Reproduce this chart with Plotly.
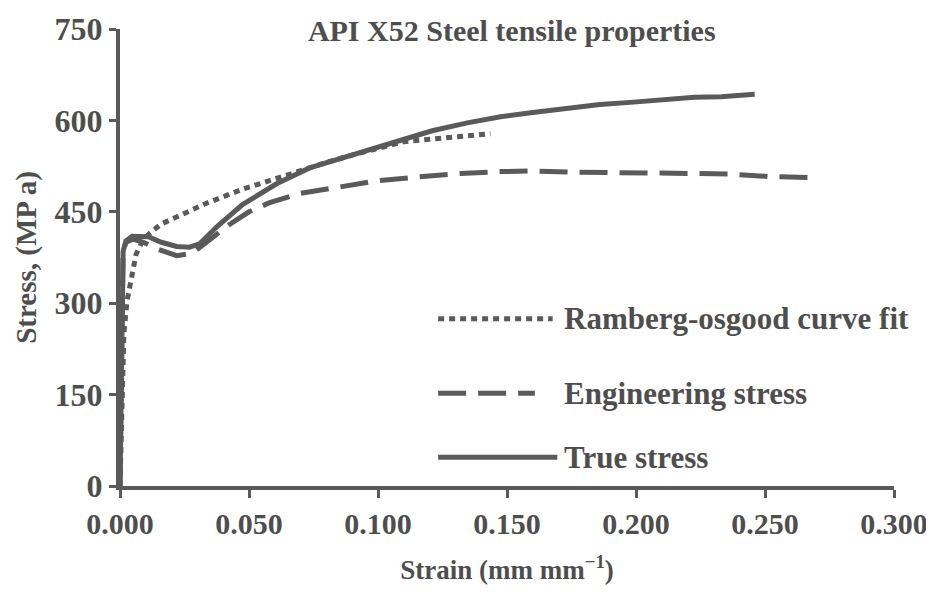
import plotly.graph_objects as go

# ---- data ----
strain_true = [0, 0.0005, 0.0012, 0.0023, 0.0047, 0.0110, 0.0160, 0.0220, 0.0270, 0.0310,
               0.0374, 0.0475, 0.0607, 0.0735, 0.0864, 0.0996, 0.1110, 0.1210, 0.1346,
               0.1475, 0.1600, 0.1735, 0.1860, 0.1990, 0.2125, 0.2226, 0.2330, 0.2460]
stress_true = [0, 250, 385, 402, 410, 409, 400, 393, 392, 398,
               425, 462, 496, 522, 539, 556, 571, 583, 596,
               606, 613, 620, 626, 630, 635, 638, 639, 643]

strain_eng = [0, 0.0005, 0.0012, 0.0023, 0.0050, 0.0090, 0.0150, 0.0220, 0.0280, 0.0350,
              0.0420, 0.0500, 0.0580, 0.0696, 0.0860, 0.1000, 0.1150, 0.1320, 0.1470,
              0.1600, 0.1760, 0.1910, 0.2060, 0.2210, 0.2360, 0.2510, 0.2710]
stress_eng = [0, 250, 385, 400, 405, 400, 388, 378, 382, 405,
              428, 450, 465, 480, 492, 501, 507, 513, 516,
              517, 515, 515, 514, 513, 512, 508, 506]

strain_ro = [0, 0.0015, 0.0027, 0.0043, 0.0062, 0.0085, 0.0113, 0.0160, 0.0218, 0.0335,
             0.0475, 0.0607, 0.0685, 0.0800, 0.0900, 0.1000, 0.1100, 0.1200, 0.1280, 0.1436]
stress_ro = [0, 250, 303, 336, 380, 400, 414, 430, 441, 464,
             487, 505, 517, 531, 543, 555, 565, 569, 572, 578]

series_names = ["Ramberg-osgood curve fit", "Engineering stress", "True stress"]
x_ticks = [0, 0.05, 0.10, 0.15, 0.20, 0.25, 0.30]
y_ticks = [0, 150, 300, 450, 600, 750]

# ---- styles ----
INK = "#5a5a5a"
TXT = "#4e4e4e"
FONT = "Liberation Serif"
DOT = "6px,5px"
DASH = "28px,12px"
LW = 5

fig = go.Figure()
fig.add_trace(go.Scatter(x=strain_ro, y=stress_ro, mode="lines", name=series_names[0],
                         line=dict(color=INK, width=LW, dash=DOT)))
fig.add_trace(go.Scatter(x=strain_eng, y=stress_eng, mode="lines", name=series_names[1],
                         line=dict(color=INK, width=LW, dash=DASH)))
fig.add_trace(go.Scatter(x=strain_true, y=stress_true, mode="lines", name=series_names[2],
                         line=dict(color=INK, width=LW)))

# custom legend (long sample lines as in the original)
legend_rows = [
    (0.366, 0.411, 0.559, DOT),
    (0.203, 0.411, 0.536, DASH),
    (0.063, 0.411, 0.565, None),
]
text_x = 0.571
for (yy, x0, x1, dash), name in zip(legend_rows, series_names):
    line = dict(color=INK, width=LW)
    if dash:
        line["dash"] = dash
    fig.add_shape(type="line", xref="paper", yref="paper", x0=x0, x1=x1, y0=yy, y1=yy, line=line)
    fig.add_annotation(xref="paper", yref="paper", x=text_x, y=yy, xanchor="left", yanchor="middle",
                       text=name, showarrow=False,
                       font=dict(family=FONT, size=31, color=TXT, weight="bold"))

# page body has an 8px margin, so the figure is sized to fit the 934x592 window
fig.update_layout(
    width=926, height=584,
    margin=dict(l=112, r=40, t=21, b=106, autoexpand=False),
    paper_bgcolor="white", plot_bgcolor="white",
    showlegend=False,
    title=dict(text="API X52 Steel tensile properties", xref="container", yref="container",
               x=0.544, y=0.962, xanchor="center", yanchor="middle", automargin=False,
               font=dict(family=FONT, size=30, color=TXT, weight="bold")),
)
fig.update_xaxes(
    range=[0, 0.3], tickvals=x_ticks, tickformat=".3f", automargin=False,
    showline=True, linecolor=INK, linewidth=4, ticks="outside", ticklen=8, tickwidth=3,
    tickcolor=INK, showgrid=False, zeroline=False,
    tickfont=dict(family=FONT, size=30, color=TXT, weight="bold"),
    title=dict(text="Strain (mm mm<sup>−1</sup>)", standoff=22,
               font=dict(family=FONT, size=27, color=TXT, weight="bold")),
)
fig.update_yaxes(
    range=[0, 750], tickvals=y_ticks, automargin=False,
    showline=True, linecolor=INK, linewidth=4, ticks="outside", ticklen=7, tickwidth=3,
    tickcolor=INK, showgrid=False, zeroline=False,
    tickfont=dict(family=FONT, size=32, color=TXT, weight="bold"),
    title=dict(text="Stress, (MP a)", standoff=10,
               font=dict(family=FONT, size=29, color=TXT, weight="bold")),
)

fig.write_html("out.html")
